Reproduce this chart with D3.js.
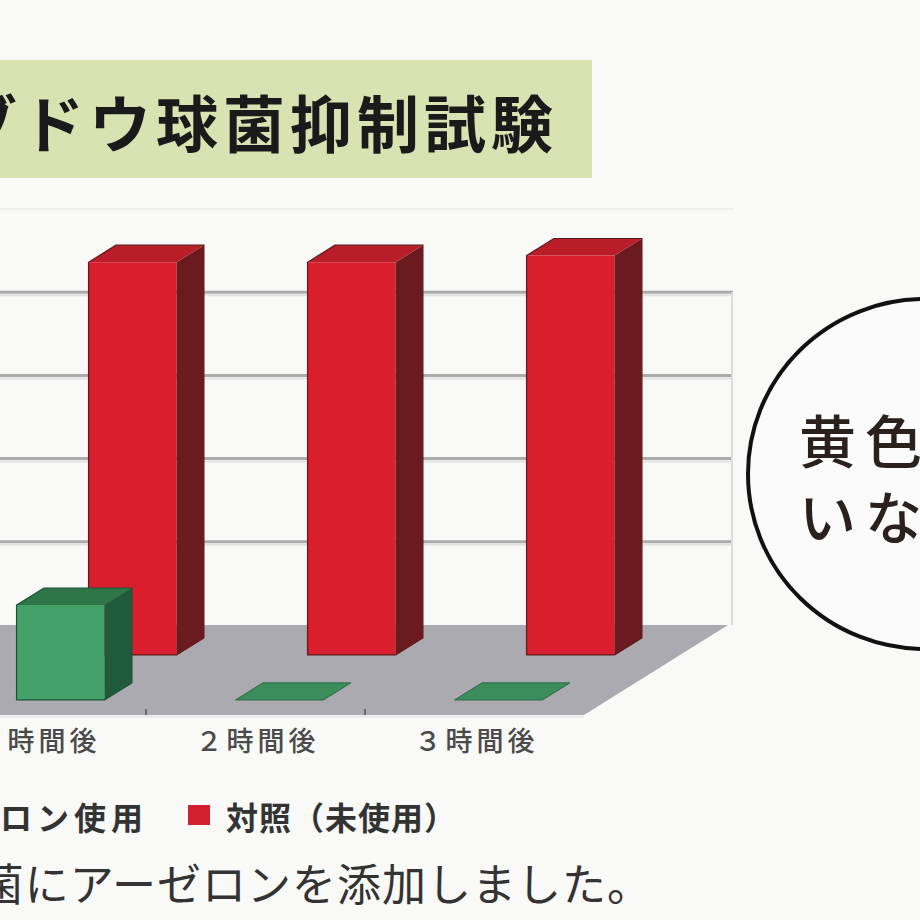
<!DOCTYPE html>
<html>
<head>
<meta charset="utf-8">
<script src="https://cdn.jsdelivr.net/npm/d3@7"></script>
<style>
  html, body { margin: 0; padding: 0; background: #f9f9f8; }
  svg { display: block; }
  text { font-family: "Noto Sans CJK JP", "Noto Sans", sans-serif; }
</style>
</head>
<body>
<div id="chart"></div>
<script>
// data
let categories = ["1時間後", "2時間後", "3時間後"];
let seriesNames = ["アーゼロン使用", "対照（未使用）"];
let arzeronValues = [1.14, 0, 0];
let controlValues = [4.72, 4.72, 4.8];
let gridTicks = [1, 2, 3, 4];

let titleText = "ブドウ球菌抑制試験";
let noteText = "ブドウ球菌にアーゼロンを添加しました。";
let bubbleLines = ["黄色ブドウ球菌が", "いなくなりました"];

let W = 920, H = 920;

let svg = d3.select("#chart").append("svg")
    .attr("width", W)
    .attr("height", H);

svg.append("rect").attr("width", W).attr("height", H).attr("fill", "#f9f9f8");

// title band
svg.append("rect")
    .attr("x", -10).attr("y", 60)
    .attr("width", 602).attr("height", 118)
    .attr("fill", "#d9e3b1");
svg.append("text")
    .attr("x", 558).attr("y", 148)
    .attr("text-anchor", "end")
    .attr("font-size", 62)
    .attr("font-weight", 700)
    .attr("letter-spacing", 5)
    .attr("fill", "#1a1a1a")
    .text(titleText);

// 3d geometry: front edge of the floor, depth goes up and to the right
let floorY = 715;
let depthX = 144, depthY = 90;

let x = d3.scaleBand()
    .domain(categories)
    .range([-73, 584])
    .padding(0);

let y = d3.scaleLinear()
    .domain([0, 5])
    .range([0, 416]);

let depth = d3.scaleLinear().domain([0, 1]).range([0, 1]);

function proj(px, d, v) {
    return [px + depthX * depth(d), floorY - depthY * depth(d) - y(v)];
}

let rows = [
    { name: seriesNames[1], values: controlValues, d0: 0.667, front: "#da1f2c", side: "#6b1b1d", top: "#b81d28" },
    { name: seriesNames[0], values: arzeronValues, d0: 0.167, front: "#43a267", side: "#1f5b3b", top: "#2e7548" }
];
let thickness = 0.19;
let barW = 88;

// back wall grid lines
let wallRight = x.range()[1] + depthX;
let wall = svg.append("g").attr("class", "wall");
wall.selectAll("line.grid")
    .data(gridTicks)
    .enter().append("line")
    .attr("class", "grid")
    .attr("x1", -20)
    .attr("x2", wallRight + 5)
    .attr("y1", d => proj(0, 1, d)[1])
    .attr("y2", d => proj(0, 1, d)[1])
    .attr("stroke", "#ababab")
    .attr("stroke-width", 3);
wall.selectAll("line.shadow")
    .data(gridTicks)
    .enter().append("line")
    .attr("class", "shadow")
    .attr("x1", -20)
    .attr("x2", wallRight + 5)
    .attr("y1", d => proj(0, 1, d)[1] + 3)
    .attr("y2", d => proj(0, 1, d)[1] + 3)
    .attr("stroke", "#e2e2e2")
    .attr("stroke-width", 2);
wall.append("line")
    .attr("x1", -20).attr("x2", wallRight + 5)
    .attr("y1", proj(0, 1, 5)[1]).attr("y2", proj(0, 1, 5)[1])
    .attr("stroke", "#eeeeee").attr("stroke-width", 2);
wall.append("line")
    .attr("x1", wallRight + 4).attr("x2", wallRight + 4)
    .attr("y1", proj(0, 1, 4)[1]).attr("y2", proj(0, 1, 0)[1])
    .attr("stroke", "#dcdcdc").attr("stroke-width", 2);

// floor
let floorPts = [
    proj(-400, 0, 0),
    proj(x.range()[1], 0, 0),
    proj(x.range()[1], 1, 0),
    proj(-400, 1, 0)
];
svg.append("polygon")
    .attr("points", floorPts.map(p => p.join(",")).join(" "))
    .attr("fill", "#abaab0");
svg.append("line")
    .attr("x1", -10).attr("x2", x.range()[1])
    .attr("y1", floorY + 1.5).attr("y2", floorY + 1.5)
    .attr("stroke", "#e6e6e6").attr("stroke-width", 2);
svg.selectAll("line.tick")
    .data(categories.slice(1))
    .enter().append("line")
    .attr("class", "tick")
    .attr("x1", d => x(d)).attr("x2", d => x(d))
    .attr("y1", floorY - 6).attr("y2", floorY)
    .attr("stroke", "#555").attr("stroke-width", 1.5);

// bars, back row first
let poly = pts => pts.map(p => p.join(",")).join(" ");

rows.forEach(row => {
    let g = svg.append("g").attr("class", "row");
    categories.forEach((c, i) => {
        let v = row.values[i];
        let xl = x(c) + x.bandwidth() / 2 - barW / 2;
        let xr = xl + barW;
        let d0 = row.d0, d1 = row.d0 + thickness;
        if (v <= 0) {
            g.append("polygon")
                .attr("points", poly([proj(xl, d0, 0), proj(xr, d0, 0), proj(xr, d1, 0), proj(xl, d1, 0)]))
                .attr("fill", "#3b8d5a")
                .attr("stroke", "#2a6a44").attr("stroke-width", 1);
            return;
        }
        // front face
        g.append("polygon")
            .attr("points", poly([proj(xl, d0, 0), proj(xr, d0, 0), proj(xr, d0, v), proj(xl, d0, v)]))
            .attr("fill", row.front);
        // side face
        g.append("polygon")
            .attr("points", poly([proj(xr, d0, 0), proj(xr, d1, 0), proj(xr, d1, v), proj(xr, d0, v)]))
            .attr("fill", row.side);
        // top face
        g.append("polygon")
            .attr("points", poly([proj(xl, d0, v), proj(xr, d0, v), proj(xr, d1, v), proj(xl, d1, v)]))
            .attr("fill", row.top);
        // soft edge outline
        g.append("polygon")
            .attr("points", poly([proj(xl, d0, 0), proj(xr, d0, 0), proj(xr, d1, 0), proj(xr, d1, v), proj(xl, d1, v), proj(xl, d0, v)]))
            .attr("fill", "none")
            .attr("stroke", d3.color(row.side).darker(0.3))
            .attr("stroke-width", 1.2);
    });
});

// category labels
svg.selectAll("text.cat")
    .data(categories)
    .enter().append("text")
    .attr("class", "cat")
    .attr("x", d => x(d) + x.bandwidth() / 2 + 2)
    .attr("y", 751)
    .attr("text-anchor", "middle")
    .attr("font-size", 27)
    .attr("font-weight", 500)
    .attr("letter-spacing", 4)
    .attr("fill", "#4a4a4a")
    .text(d => d.replace(/^(\d)/, m => String.fromCharCode(m.charCodeAt(0) + 0xFEE0)));

// legend
let legend = svg.append("g").attr("class", "legend");
legend.append("rect")
    .attr("x", -40).attr("y", 805).attr("width", 22).attr("height", 20)
    .attr("fill", "#43a267");
legend.append("text")
    .attr("x", 148).attr("y", 830)
    .attr("text-anchor", "end")
    .attr("font-size", 32).attr("font-weight", 700)
    .attr("letter-spacing", 5)
    .attr("fill", "#333")
    .text(seriesNames[0]);
legend.append("rect")
    .attr("x", 188).attr("y", 805).attr("width", 22).attr("height", 20)
    .attr("fill", "#d32030");
legend.append("text")
    .attr("x", 226).attr("y", 830)
    .attr("font-size", 32).attr("font-weight", 700)
    .attr("letter-spacing", 1)
    .attr("fill", "#333")
    .text(seriesNames[1]);

// note line
svg.append("text")
    .attr("x", 652).attr("y", 901)
    .attr("text-anchor", "end")
    .attr("font-size", 44)
    .attr("letter-spacing", 1)
    .attr("fill", "#333")
    .text(noteText);

// speech bubble
svg.append("ellipse")
    .attr("cx", 925).attr("cy", 474)
    .attr("rx", 177).attr("ry", 175)
    .attr("fill", "#fbfbfb")
    .attr("stroke", "#111")
    .attr("stroke-width", 4);
svg.selectAll("text.bubble")
    .data(bubbleLines)
    .enter().append("text")
    .attr("class", "bubble")
    .attr("x", 799)
    .attr("y", (d, i) => 463 + i * 76)
    .attr("font-size", 57)
    .attr("font-weight", 500)
    .attr("letter-spacing", 9)
    .attr("fill", "#2a201e")
    .text(d => d);
</script>
</body>
</html>
